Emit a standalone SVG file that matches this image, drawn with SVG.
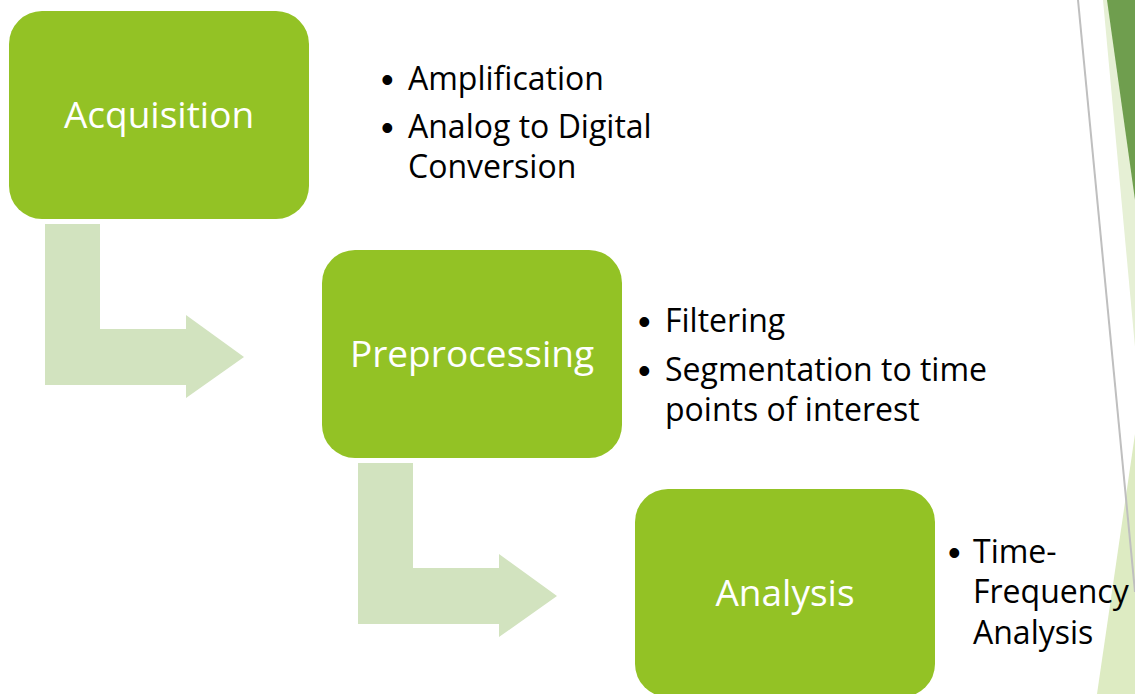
<svg xmlns="http://www.w3.org/2000/svg" width="1135" height="694" viewBox="0 0 1135 694">
<style>
.box{fill:#93C225}
.arr{fill:#D2E3BF}
.lbl{font-family:"Open Sans","Noto Sans",sans-serif;font-size:37px;fill:#FFFFFF;text-anchor:middle}
.bul{font-family:"Open Sans","Noto Sans",sans-serif;font-size:32px;fill:#000000}
.dot{font-family:"Liberation Sans",Arial,sans-serif;font-size:36px;fill:#000000}
</style>
<rect width="1135" height="694" fill="#FFFFFF"/>
<g id="decor">
<polygon points="1103,0 1135,0 1135,347" fill="#E6F0D5"/>
<polygon points="1107,0 1135,0 1135,200" fill="#6F9E4E"/>
<polygon points="1135,434 1097,694 1135,694" fill="#DDEBC2"/>
<line x1="1078" y1="0" x2="1135" y2="592" stroke="#BFBFBF" stroke-width="2"/>
</g>
<g id="connectors">
<polygon class="arr" points="45,224 100,224 100,329 186,329 186,315 244,357 186,398 186,385 45,385"/>
<polygon class="arr" points="358,463 413,463 413,568 499,568 499,554 557,596 499,637 499,624 358,624"/>
</g>
<g id="node-acquisition">
<rect class="box" x="9" y="11" width="300" height="208" rx="33" ry="33"/>
<text class="lbl" x="159" y="128">Acquisition</text>
</g>
<g id="node-preprocessing">
<rect class="box" x="322" y="250" width="300" height="208" rx="33" ry="33"/>
<text class="lbl" x="472" y="367">Preprocessing</text>
</g>
<g id="node-analysis">
<rect class="box" x="635" y="489" width="300" height="208" rx="33" ry="33"/>
<text class="lbl" x="785" y="606">Analysis</text>
</g>
<g id="notes-acquisition" class="bul">
<text class="dot" x="381" y="92">•</text><text x="408" y="90">Amplification</text>
<text class="dot" x="381" y="140">•</text><text x="408" y="138">Analog to Digital</text>
<text x="408" y="178">Conversion</text>
</g>
<g id="notes-preprocessing" class="bul">
<text class="dot" x="638" y="334">•</text><text x="665" y="332">Filtering</text>
<text class="dot" x="638" y="383">•</text><text x="665" y="381">Segmentation to time</text>
<text x="665" y="421">points of interest</text>
</g>
<g id="notes-analysis" class="bul">
<text class="dot" x="948" y="565">•</text><text x="973" y="563">Time-</text>
<text x="973" y="603">Frequency</text>
<text x="973" y="644">Analysis</text>
</g>
</svg>
